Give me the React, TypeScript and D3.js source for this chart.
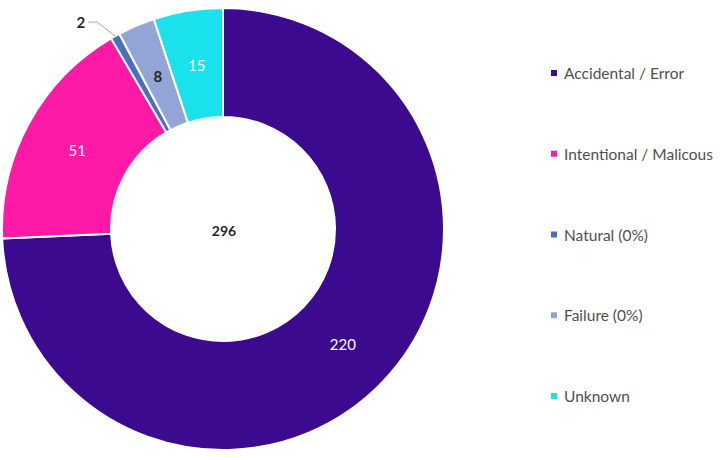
import React, { useEffect, useRef } from 'react';
import * as d3 from 'd3';

// data
const categories = ['Accidental / Error', 'Intentional / Malicous', 'Natural (0%)', 'Failure (0%)', 'Unknown'];
const values = [220, 51, 2, 8, 15];
const colors = ['#3c0a8f', '#ff19a7', '#4a6fc0', '#92a5d6', '#19e2ec'];
const labelColors = ['#ffffff', '#ffffff', '#262626', '#262626', '#ffffff'];

function App() {
  const ref = useRef<SVGSVGElement | null>(null);

  useEffect(() => {
    const svg = d3.select(ref.current);
    svg.selectAll('*').remove();

    const cx = 223, cy = 229;
    const outerR = 221, innerR = 112;
    const font = 'Lato, "Open Sans", sans-serif';

    const data = categories.map((c, i) => ({ name: c, value: values[i], i }));
    const pie = d3.pie<any>().sort(null).value((d: any) => d.value);
    const arcs = pie(data);
    const arc = d3.arc<any>().innerRadius(innerR).outerRadius(outerR);
    const labelArc = d3.arc<any>().innerRadius(166).outerRadius(166);

    const g = svg.append('g').attr('transform', `translate(${cx},${cy})`);

    g.selectAll('path.slice')
      .data(arcs)
      .join('path')
      .attr('class', 'slice')
      .attr('d', arc)
      .attr('fill', (d: any) => colors[d.data.i])
      .attr('stroke', '#ffffff')
      .attr('stroke-width', 2);

    // slice labels (tiny slice gets a leader line)
    arcs.forEach((d: any) => {
      if (d.data.value <= 2) {
        const outer = d3.arc<any>().innerRadius(outerR).outerRadius(outerR).centroid(d);
        const lx = outer[0] - 18, ly = outer[1] - 14;
        g.append('path')
          .attr('d', `M${outer[0]},${outer[1]} L${lx},${ly} L${lx - 9},${ly}`)
          .attr('fill', 'none')
          .attr('stroke', '#a6a6a6')
          .attr('stroke-width', 1);
        g.append('text')
          .attr('x', lx - 12)
          .attr('y', ly)
          .attr('text-anchor', 'end')
          .attr('dominant-baseline', 'central')
          .attr('font-family', font)
          .attr('font-size', 15)
          .attr('font-weight', 'bold')
          .attr('fill', labelColors[d.data.i])
          .text(d.data.value);
      } else {
        const [x, y] = labelArc.centroid(d);
        g.append('text')
          .attr('x', x)
          .attr('y', y)
          .attr('text-anchor', 'middle')
          .attr('dominant-baseline', 'central')
          .attr('font-family', font)
          .attr('font-size', 15)
          .attr('font-weight', d.data.i === 3 ? 'bold' : 'normal')
          .attr('fill', labelColors[d.data.i])
          .text(d.data.value);
      }
    });

    // total in the middle
    g.append('text')
      .attr('x', 1)
      .attr('y', 1)
      .attr('text-anchor', 'middle')
      .attr('dominant-baseline', 'central')
      .attr('font-family', font)
      .attr('font-size', 14)
      .attr('font-weight', 'bold')
      .attr('fill', '#262626')
      .text(d3.sum(values));

    // legend
    const ly = d3.scalePoint<string>().domain(categories).range([73, 396]);
    const legend = svg.append('g');
    categories.forEach((c, i) => {
      legend.append('rect')
        .attr('x', 551)
        .attr('y', ly(c)! - 3)
        .attr('width', 6)
        .attr('height', 6)
        .attr('fill', colors[i]);
      legend.append('text')
        .attr('x', 564)
        .attr('y', ly(c)!)
        .attr('dominant-baseline', 'central')
        .attr('font-family', font)
        .attr('font-size', 15.5)
        .attr('fill', '#505050')
        .text(c);
    });
  }, []);

  return (
    <svg ref={ref} width={720} height={460}
      style={{ position: 'absolute', left: 0, top: 0, background: '#fff' }} />
  );
}

export default App;
